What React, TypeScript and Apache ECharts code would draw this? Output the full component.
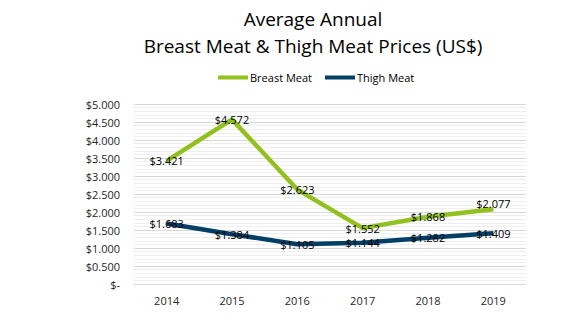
import React, { useEffect, useRef } from "react";
import * as echarts from "echarts";

const years = ["2014", "2015", "2016", "2017", "2018", "2019"];
const breastMeat = [3.421, 4.572, 2.623, 1.552, 1.868, 2.077];
const thighMeat = [1.683, 1.384, 1.105, 1.144, 1.282, 1.409];

const FONT = "Open Sans";

export default function App() {
  const ref = useRef<HTMLDivElement>(null);
  useEffect(() => {
    const chart = echarts.init(ref.current!, undefined, { renderer: "svg" });
    const labelCfg = {
      show: true,
      position: "inside" as const,
      color: "#000",
      fontFamily: FONT,
      fontSize: 11,
      formatter: (p: any) => "$" + Number(p.value).toFixed(3),
    };
    const breastData = breastMeat.map((v, i) =>
      i === breastMeat.length - 1 ? { value: v, label: { offset: [0, -6] } } : v
    );
    chart.setOption({
      animation: false,
      backgroundColor: "#fff",
      title: {
        text: "Average Annual\nBreast Meat & Thigh Meat Prices (US$)",
        left: 308,
        textAlign: "center",
        top: 0,
        textStyle: {
          fontFamily: FONT,
          fontSize: 19,
          fontWeight: "normal",
          color: "#000",
          lineHeight: 27,
        },
      },
      legend: {
        top: 67,
        left: 213,
        itemWidth: 30,
        itemHeight: 4,
        itemGap: 13,
        icon: "rect",
        textStyle: { fontFamily: FONT, fontSize: 11, color: "#000", padding: [0, 0, 0, -3] },
        data: ["Breast Meat", "Thigh Meat"],
      },
      grid: { left: 134, right: 51, top: 104, bottom: 40 },
      xAxis: {
        type: "category",
        data: years,
        boundaryGap: true,
        axisLine: { show: false },
        axisTick: { show: false },
        axisLabel: { color: "#262626", fontFamily: FONT, fontSize: 11, margin: 11 },
      },
      yAxis: {
        type: "value",
        min: 0,
        max: 5,
        interval: 0.5,
        axisLine: { show: false },
        axisTick: { show: false },
        axisLabel: {
          color: "#262626",
          fontFamily: FONT,
          fontSize: 11,
          margin: 14,
          formatter: (v: number) => (v === 0 ? "$-" : "$" + v.toFixed(3)),
        },
        splitLine: { lineStyle: { color: "#D9D9D9", width: 1 } },
        minorTick: { show: false, splitNumber: 5 },
        minorSplitLine: { show: true, lineStyle: { color: "#EFEFEF", width: 1 } },
      },
      series: [
        {
          name: "Breast Meat",
          type: "line",
          data: breastData,
          symbol: "circle",
          symbolSize: 0,
          showSymbol: true,
          itemStyle: { color: "#92C01F" },
          lineStyle: { color: "#92C01F", width: 4.5 },
          label: labelCfg,
        },
        {
          name: "Thigh Meat",
          type: "line",
          data: thighMeat,
          symbol: "circle",
          symbolSize: 0,
          showSymbol: true,
          itemStyle: { color: "#033E66" },
          lineStyle: { color: "#033E66", width: 4.5 },
          label: labelCfg,
        },
      ],
    });
    return () => chart.dispose();
  }, []);
  return <div ref={ref} style={{ width: 577, height: 324, margin: -8 }} />;
}
